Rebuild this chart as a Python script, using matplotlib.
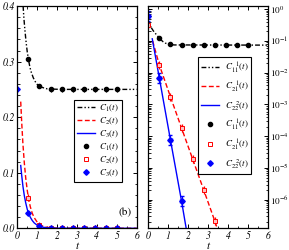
import numpy as np
import matplotlib
matplotlib.use("Agg")
import matplotlib.pyplot as plt
from matplotlib.lines import Line2D
from matplotlib.ticker import MultipleLocator, LogLocator, NullFormatter

plt.rcParams['font.family'] = ['STIXGeneral', 'DejaVu Serif']
plt.rcParams['mathtext.fontset'] = 'stix'
plt.rcParams['mathtext.default'] = 'it'

# ---------------- data ----------------
# marker sample times
t_mark = [0.0, 0.556, 1.111, 1.667, 2.222, 2.778, 3.333, 3.889, 4.444, 5.0]

# left panel: lines
t_c1 = [0.29, 0.33, 0.38, 0.44, 0.50, 0.56, 0.63, 0.70, 0.80, 0.90, 1.00, 1.15, 1.30, 1.50, 1.80, 2.20, 6.0]
v_c1 = [0.400, 0.378, 0.357, 0.335, 0.317, 0.304, 0.290, 0.281, 0.271, 0.264, 0.259, 0.255, 0.253, 0.251, 0.2505, 0.250, 0.250]
t_c2 = [0.17, 0.22, 0.28, 0.35, 0.42, 0.50, 0.556, 0.65, 0.75, 0.85, 1.00, 1.11, 1.30, 1.50, 1.80, 2.20, 6.0]
v_c2 = [0.228, 0.190, 0.152, 0.118, 0.091, 0.068, 0.055, 0.039, 0.027, 0.019, 0.011, 0.0072, 0.0035, 0.0017, 0.0005, 0.0001, 0.0]
t_c3 = [0.17, 0.22, 0.28, 0.35, 0.42, 0.50, 0.556, 0.65, 0.75, 0.85, 1.00, 1.11, 1.30, 1.50, 1.80, 2.20, 6.0]
v_c3 = [0.113, 0.095, 0.076, 0.059, 0.046, 0.034, 0.028, 0.020, 0.014, 0.0096, 0.0055, 0.0037, 0.0019, 0.0009, 0.0003, 0.00007, 0.0]

# left panel: markers
m_c1 = [np.nan, 0.305, 0.256, 0.250, 0.250, 0.250, 0.250, 0.250, 0.250, 0.250]
m_c2 = [np.nan, 0.055, 0.006, 0.0005, 0.0, 0.0, 0.0, 0.0, 0.0, 0.0]
m_c3 = [0.250, 0.028, 0.004, 0.0003, 0.0, 0.0, 0.0, 0.0, 0.0, 0.0]

# right panel: lines
t_r11 = [0.15, 0.25, 0.35, 0.45, 0.556, 0.65, 0.75, 0.85, 1.00, 1.11, 1.30, 6.0]
v_r11 = [0.263, 0.210, 0.175, 0.147, 0.123, 0.106, 0.094, 0.086, 0.079, 0.077, 0.075, 0.074]
t_r21 = [0.22, 0.556, 1.111, 1.667, 2.222, 2.778, 3.333, 3.55]
v_r21 = [0.100, 1.74e-2, 1.74e-3, 1.8e-4, 1.9e-5, 2.0e-6, 2.1e-7, 8e-8]
t_r22 = [0.20, 0.556, 1.111, 1.667, 1.95]
v_r22 = [0.117, 6.7e-3, 7.6e-5, 8.9e-7, 8e-8]

# right panel: markers
m_r11 = [np.nan, 0.123, 0.080, 0.074, 0.074, 0.074, 0.074, 0.074, 0.074, 0.074]
m_r21 = [0.32, 1.74e-2, 1.74e-3, 1.8e-4, 1.9e-5, 2.0e-6, 2.1e-7, np.nan, np.nan, np.nan]
m_r22 = [0.61, 6.7e-3, 7.6e-5, 8.9e-7, np.nan, np.nan, np.nan, np.nan, np.nan, np.nan]

left_labels = [r'$C_1(t)$', r'$C_2(t)$', r'$C_3(t)$']
right_labels = [r'$C_{11}^{\ \ 1}(t)$', r'$C_{21}^{\ \ 1}(t)$', r'$C_{22}^{\ \ 2}(t)$']
x_ticks = [0, 1, 2, 3, 4, 5, 6]
left_yticks = [0.0, 0.1, 0.2, 0.3, 0.4]
left_yticklabels = ['0.0', '0.1', '0.2', '0.3', '0.4']
right_yticks = [1e0, 1e-1, 1e-2, 1e-3, 1e-4, 1e-5, 1e-6]
right_yticklabels = [r'$10^{0}$', r'$10^{-1}$', r'$10^{-2}$', r'$10^{-3}$', r'$10^{-4}$', r'$10^{-5}$', r'$10^{-6}$']

# ---------------- styles ----------------
BLACK, RED, BLUE = '#000000', '#ff0000', '#0000ff'
dashdotdot = (0, (3.5, 1.5, 1, 1.5, 1, 1.5))
dashed = (0, (3.5, 1.8))
lw = 1.0
fs = 7
lfs = 6.5

fig = plt.figure(figsize=(2.89, 2.5), dpi=100)
axL = fig.add_axes([0.060, 0.0868, 0.413, 0.889])
axR = fig.add_axes([0.513, 0.0868, 0.415, 0.889])

def style_axis(ax):
    ax.tick_params(which='both', direction='in', top=True, right=True, labelsize=fs, pad=2)
    ax.tick_params(which='major', length=3.2, width=0.7)
    ax.tick_params(which='minor', length=1.8, width=0.6)
    for s in ax.spines.values():
        s.set_linewidth(0.9)

def legend_handles():
    return [Line2D([], [], color=BLACK, ls=dashdotdot, lw=lw),
            Line2D([], [], color=RED, ls=dashed, lw=lw),
            Line2D([], [], color=BLUE, ls='-', lw=lw),
            Line2D([], [], color=BLACK, marker='o', ls='none', ms=3),
            Line2D([], [], color=RED, marker='s', ls='none', ms=2.8, mfc='white', mec=RED, mew=0.7),
            Line2D([], [], color=BLUE, marker='D', ls='none', ms=2.8, mec=BLUE, mfc=BLUE)]

# ---- left
axL.plot(t_c1, v_c1, color=BLACK, ls=dashdotdot, lw=lw)
axL.plot(t_c2, v_c2, color=RED, ls=dashed, lw=lw)
axL.plot(t_c3, v_c3, color=BLUE, ls='-', lw=lw)
tm = np.array(t_mark)
axL.errorbar(tm, m_c1, xerr=0.08, yerr=0.004, fmt='o', color=BLACK, ms=3, elinewidth=0.8, capsize=0)
axL.errorbar(tm, m_c2, xerr=0.09, yerr=0.006, fmt='s', color=RED, mfc='#ffc0c0', mec=RED, ms=2.6, mew=0.7, elinewidth=0.9, capsize=0)
axL.errorbar(tm, m_c3, xerr=0.08, yerr=0.004, fmt='D', color=BLUE, ms=2.8, elinewidth=0.8, capsize=0)
axL.set_xlim(0, 6)
axL.set_ylim(0, 0.4)
axL.set_xticks(x_ticks)
axL.set_xticklabels([str(v) for v in x_ticks])
axL.set_yticks(left_yticks)
axL.set_yticklabels(left_yticklabels)
axL.xaxis.set_minor_locator(MultipleLocator(0.5))
axL.yaxis.set_minor_locator(MultipleLocator(0.02))
style_axis(axL)
for lab in axL.get_xticklabels() + axL.get_yticklabels():
    lab.set_fontstyle('italic')
axL.set_xlabel('t', fontstyle='italic', fontsize=8, labelpad=0)
axL.text(0.90, 0.07, '(b)', transform=axL.transAxes, fontsize=8, ha='center', va='center')

legL = axL.legend(legend_handles(), left_labels + left_labels, loc='upper left', bbox_to_anchor=(0.475, 0.577),
                  fontsize=lfs, frameon=True, fancybox=False, edgecolor='black', framealpha=1,
                  handlelength=2.0, handletextpad=0.5, labelspacing=0.22, borderpad=0.3, borderaxespad=0)
legL.get_frame().set_linewidth(0.8)

# ---- right
axR.plot(t_r11, v_r11, color=BLACK, ls=dashdotdot, lw=lw)
axR.plot(t_r21, v_r21, color=RED, ls=dashed, lw=lw)
axR.plot(t_r22, v_r22, color=BLUE, ls='-', lw=lw)
def rel_err(vals, f=1.3):
    v = np.array(vals, dtype=float)
    return np.vstack([v - v / f, v * f - v])
axR.errorbar(tm, m_r11, xerr=0.08, yerr=rel_err(m_r11, 1.12), fmt='o', color=BLACK, ms=3, elinewidth=0.8, capsize=0)
axR.errorbar(tm, m_r21, xerr=0.09, yerr=rel_err(m_r21, 1.35), fmt='s', color=RED, mfc='#ffc0c0', mec=RED, ms=2.6, mew=0.7, elinewidth=0.9, capsize=0)
axR.errorbar(tm, m_r22, xerr=0.08, yerr=rel_err(m_r22, 1.45), fmt='D', color=BLUE, ms=2.8, elinewidth=0.8, capsize=1.5)
axR.set_yscale('log')
axR.set_xlim(0, 6)
axR.set_ylim(10 ** -6.9, 10 ** 0.1)
axR.set_xticks(x_ticks)
axR.set_xticklabels([str(v) for v in x_ticks])
axR.xaxis.set_minor_locator(MultipleLocator(0.5))
axR.set_yticks(right_yticks)
axR.set_yticklabels(right_yticklabels)
axR.yaxis.set_minor_locator(LogLocator(base=10, subs=np.arange(2, 10), numticks=20))
axR.yaxis.set_minor_formatter(NullFormatter())
style_axis(axR)
axR.tick_params(axis='y', which='both', labelleft=False, labelright=True, labelsize=6.7, pad=1.5)
for lab in axR.get_xticklabels():
    lab.set_fontstyle('italic')
axR.set_xlabel('t', fontstyle='italic', fontsize=8, labelpad=0)

legR = axR.legend(legend_handles(), right_labels + right_labels, loc='upper left', bbox_to_anchor=(0.414, 0.771),
                  fontsize=lfs, frameon=True, fancybox=False, edgecolor='black', framealpha=1,
                  handlelength=2.0, handletextpad=0.6, labelspacing=0.55, borderpad=0.35, borderaxespad=0)
legR.get_frame().set_linewidth(0.8)

fig.savefig('out.png', dpi=100)
